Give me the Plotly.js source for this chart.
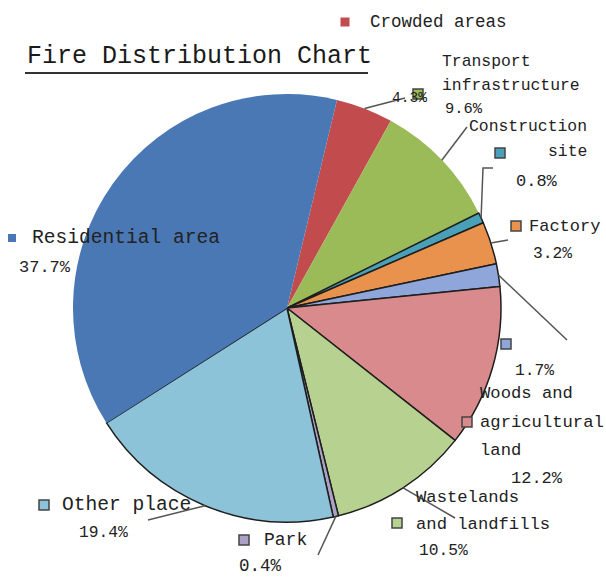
<!DOCTYPE html>
<html>
<head>
<meta charset="utf-8">
<script src="https://cdn.plot.ly/plotly-3.0.1.min.js"></script>
<style>html,body{margin:0;padding:0;background:#fff;}#chart{width:606px;height:579px;}</style>
</head>
<body>
<div id="chart"></div>
<script>
// ---- data ----
var categories = ["Crowded areas", "Transport infrastructure", "Construction site", "Factory", "",
                  "Woods and agricultural land", "Wastelands and landfills", "Park", "Other place", "Residential area"];
var values = [4.3, 9.6, 0.8, 3.2, 1.7, 12.2, 10.5, 0.4, 19.4, 37.7];
var colors = ["#c24b4e", "#9bbb59", "#4aa0b8", "#e8924e", "#8ea6d9",
              "#d98a8c", "#b7d191", "#aaa1c4", "#8dc3d8", "#4a78b4"];
var chartTitle = "Fire Distribution Chart";

// ---- layout config (pixels) ----
var W = 606, H = 579;
var CX = 287, CY = 308, R = 214;
var ROT = 13.5;
var outlineW = [0, 0, 1.5, 1.5, 1.5, 1.5, 1.5, 1.5, 1.5, 0];
// per slice: marker centre, marker size, name line groups (word counts), line positions, pct position, font sizes, leader path
var labelSpec = [
  {m:[345,22,9], groups:[2], lines:[[368,22]], pct:[390,98], fs:17.5, pfs:14.6, leader:[[405,98]], border:false},
  {m:[418,94,10], groups:[1,1], lines:[[440,62],[440,85]], pct:[443,109], fs:16.4, pfs:15.4, leader:[[467,127]]},
  {m:[500,153,10], groups:[1,1], lines:[[467,127],[546,152]], pct:[514,181], fs:16.4, pfs:17, leader:[[483,168],[493,168]]},
  {m:[516,226,10], groups:[1], lines:[[527,226]], pct:[531,253], fs:17, pfs:16.3, leader:[[508,240]]},
  {m:[506,344,10], groups:[], lines:[], pct:[513,370], fs:17, pfs:16.3, leader:[[567,340]]},
  {m:[467,422,10], groups:[2,1,1], lines:[[478,393],[478,422],[478,450]], pct:[509,478], fs:17.2, pfs:17, leader:null},
  {m:[397,523,10], groups:[1,2], lines:[[414,498],[414,524]], pct:[417,550], fs:17.2, pfs:16.3, leader:[[455,518]]},
  {m:[244,540,10], groups:[1], lines:[[262,540]], pct:[237,566], fs:18, pfs:17.5, leader:[[318,555]]},
  {m:[44,505,10], groups:[2], lines:[[60,505]], pct:[77,532], fs:19.6, pfs:16.3, leader:[[148,520]]},
  {m:[12,238,8], groups:[2], lines:[[30,238]], pct:[17,267], fs:19.6, pfs:17, leader:null, border:false}
];

function px(x){ return x / W; }
function py(y){ return 1 - y / H; }

var FONT = "Liberation Mono, DejaVu Sans Mono, monospace";
var TXT = "#222222";

var annotations = [];
var shapes = [];

// title
annotations.push({xref:'paper', yref:'paper', x:px(25), y:py(56), xanchor:'left', yanchor:'middle',
  text: chartTitle, showarrow:false, font:{family:FONT, size:25, color:'#1a1a1a'}});
shapes.push({type:'line', xref:'paper', yref:'paper', x0:px(25), x1:px(368), y0:py(73), y1:py(73),
  line:{color:'#333', width:2}});

var total = values.reduce(function(a,b){return a+b;}, 0);
var cum = 0;
for (var i = 0; i < values.length; i++) {
  var spec = labelSpec[i];
  var mid = ROT + (cum + values[i] / 2) / total * 360;
  cum += values[i];
  // name lines from category words
  var words = categories[i].split(' ');
  var k = 0;
  for (var g = 0; g < spec.groups.length; g++) {
    var ln = words.slice(k, k + spec.groups[g]).join(' ');
    k += spec.groups[g];
    annotations.push({xref:'paper', yref:'paper', x:px(spec.lines[g][0]), y:py(spec.lines[g][1]),
      xanchor:'left', yanchor:'middle', text: ln, showarrow:false,
      font:{family:FONT, size:spec.fs, color:TXT}});
  }
  // percentage
  annotations.push({xref:'paper', yref:'paper', x:px(spec.pct[0]), y:py(spec.pct[1]),
    xanchor:'left', yanchor:'middle', text: values[i].toFixed(1) + '%', showarrow:false,
    font:{family:FONT, size:spec.pfs, color:TXT}});
  // marker key
  var s = spec.m[2] / 2;
  shapes.push({type:'rect', xref:'paper', yref:'paper',
    x0:px(spec.m[0]-s), x1:px(spec.m[0]+s), y0:py(spec.m[1]+s), y1:py(spec.m[1]-s),
    fillcolor: colors[i], line:{color: spec.border === false ? colors[i] : '#444', width: spec.border === false ? 0 : 1.5}});
  // leader line from slice mid-angle on the rim
  if (spec.leader) {
    var a = mid * Math.PI / 180;
    var sx = CX + R * Math.sin(a), sy = CY - R * Math.cos(a);
    var path = 'M' + px(sx) + ',' + py(sy);
    spec.leader.forEach(function(p){ path += ' L' + px(p[0]) + ',' + py(p[1]); });
    shapes.push({type:'path', xref:'paper', yref:'paper', path:path, line:{color:'#555', width:1.5}});
  }
}

var trace = {
  type:'pie',
  values: values,
  sort:false,
  direction:'clockwise',
  rotation: ROT,
  textinfo:'none',
  hoverinfo:'none',
  showlegend:false,
  marker:{colors: colors, line:{color:'#1e1e1e', width: outlineW}},
  domain:{x:[px(CX-R), px(CX+R)], y:[py(CY+R), py(CY-R)]}
};

var layout = {
  width: W, height: H,
  margin:{l:0, r:0, t:0, b:0},
  paper_bgcolor:'#ffffff',
  plot_bgcolor:'#ffffff',
  showlegend:false,
  annotations: annotations,
  shapes: shapes
};

Plotly.newPlot('chart', [trace], layout, {staticPlot:true, displayModeBar:false});
</script>
</body>
</html>
